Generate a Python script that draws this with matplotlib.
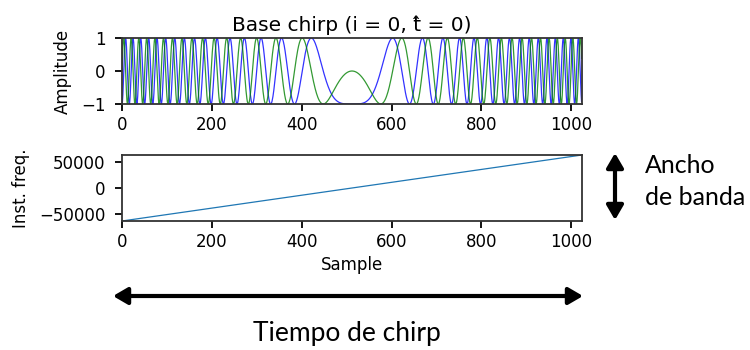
import numpy as np
import matplotlib.pyplot as plt
from matplotlib.patches import FancyArrowPatch

# Chirp parameters
n_samples = 1024
bandwidth = 125000.0
sample_rate = 1.0e6
phase_offset = np.pi

# Instantaneous frequency endpoints
freq_samples = [0, 1024]
freq_values = [-62500, 62500]

amp_ticks = [-1, 0, 1]
freq_ticks = [-50000, 0, 50000]
x_ticks = [0, 200, 400, 600, 800, 1000]

# Build base chirp
n = np.arange(n_samples)
d = n - n_samples / 2
phase = phase_offset + np.pi * bandwidth / (n_samples * sample_rate) * d ** 2
chirp_re = np.cos(phase)
chirp_im = np.sin(phase)

plt.rcParams['font.size'] = 12
plt.rcParams['axes.linewidth'] = 1.3
plt.rcParams['xtick.major.width'] = 1.3
plt.rcParams['ytick.major.width'] = 1.3
plt.rcParams['xtick.major.size'] = 5
plt.rcParams['ytick.major.size'] = 5
plt.rcParams['ytick.major.pad'] = 7
plt.rcParams['axes.labelpad'] = 6.5

W, H = 750, 350
fig = plt.figure(figsize=(7.5, 3.5), dpi=100)


def px_axes(x0, y0, x1, y1):
    return fig.add_axes([x0 / W, 1 - y1 / H, (x1 - x0) / W, (y1 - y0) / H])


# Top: chirp signal
ax1 = px_axes(122, 38, 582, 104)
ax1.plot(n, chirp_re, color='b', lw=0.9, alpha=0.8)
ax1.plot(n, chirp_im, color='g', lw=0.9, alpha=0.8)
ax1.set_xlim(0, n_samples)
ax1.set_ylim(-1, 1)
ax1.set_yticks(amp_ticks)
ax1.set_xticks(x_ticks)
ax1.set_ylabel('Amplitude')
ax1.set_title('Base chirp (i = 0, t\u0302 = 0)', fontsize=14.5, pad=5)

# Bottom: instantaneous frequency
ax2 = px_axes(122, 155, 582, 221)
ax2.plot(freq_samples, freq_values, color='#1f77b4', lw=0.9)
ax2.set_xlim(0, n_samples)
ax2.set_ylim(freq_values[0], freq_values[1])
ax2.set_yticks(freq_ticks)
ax2.set_xticks(x_ticks)
ax2.set_ylabel('Inst. freq.')
ax2.set_xlabel('Sample', labelpad=4)

for ax in (ax1, ax2):
    for s in ax.spines.values():
        s.set_color('#333333')

# Slide annotations
def fig_arrow(p0, p1):
    a = FancyArrowPatch((p0[0] / W, 1 - p0[1] / H), (p1[0] / W, 1 - p1[1] / H),
                        transform=fig.transFigure, arrowstyle='<|-|>,head_length=0.72,head_width=0.42',
                        mutation_scale=12, lw=3, color='black', shrinkA=0, shrinkB=0)
    fig.add_artist(a)


fig_arrow((615, 153), (615, 220))
fig_arrow((113, 296), (583, 296))

ann_font = ['Lato', 'DejaVu Sans']
fig.text(645 / W, 1 - 173 / H, 'Ancho', fontsize=18, family=ann_font, va='baseline', ha='left')
fig.text(645 / W, 1 - 205 / H, 'de banda', fontsize=18, family=ann_font, va='baseline', ha='left')
fig.text(347 / W, 1 - 341 / H, 'Tiempo de chirp', fontsize=19, family=ann_font, va='baseline', ha='center')

fig.savefig('out.png', dpi=100)
